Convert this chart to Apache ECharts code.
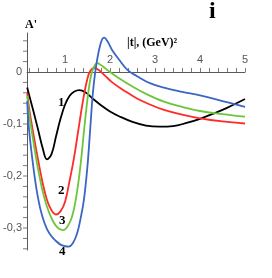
<!DOCTYPE html>
<html><head><meta charset="utf-8">
<script src="https://cdn.jsdelivr.net/npm/echarts@6/dist/echarts.min.js"></script>
<style>html,body{margin:0;padding:0;background:#fff}#c{width:272px;height:278px}</style>
</head><body><div id="c"></div>
<script>
var xLabels = [1,2,3,4,5];
var yLabels = [-0.3,-0.2,-0.1,0];
var xTickValues = [0.2,0.4,0.6,0.8,1,1.2,1.4,1.6,1.8,2,2.2,2.4,2.6,2.8,3,3.2,3.4,3.6,3.8,4,4.2,4.4,4.6,4.8,5];
var yTickValues = [-0.34,-0.32,-0.3,-0.28,-0.26,-0.24,-0.22,-0.2,-0.18,-0.16,-0.14,-0.12,-0.1,-0.08,-0.06,-0.04,-0.02,0.02,0.04,0.06];

var curve1 = [[0.16,-0.03],[0.2,-0.043],[0.3,-0.076],[0.4,-0.11],[0.5,-0.145],[0.6,-0.168],[0.7,-0.158],[0.8,-0.124],[0.9,-0.09],[1.0,-0.063],[1.1,-0.046],[1.2,-0.038],[1.32,-0.035],[1.45,-0.039],[1.6,-0.05],[1.8,-0.064],[2.0,-0.076],[2.2,-0.085],[2.5,-0.096],[2.8,-0.103],[3.1,-0.105],[3.4,-0.104],[3.7,-0.098],[4.0,-0.09],[4.3,-0.08],[4.6,-0.069],[5.0,-0.052]];
var curve2 = [[0.16,-0.04],[0.2,-0.068],[0.3,-0.12],[0.4,-0.168],[0.5,-0.212],[0.6,-0.246],[0.7,-0.266],[0.8,-0.274],[0.9,-0.268],[1.0,-0.25],[1.1,-0.21],[1.2,-0.165],[1.3,-0.11],[1.4,-0.055],[1.5,-0.012],[1.56,0.002],[1.64,0.008],[1.75,0.004],[1.9,-0.008],[2.05,-0.02],[2.3,-0.035],[2.6,-0.051],[2.9,-0.063],[3.2,-0.073],[3.6,-0.082],[4.0,-0.089],[4.5,-0.095],[5.0,-0.099]];
var curve3 = [[0.16,-0.046],[0.2,-0.078],[0.3,-0.135],[0.4,-0.186],[0.5,-0.228],[0.6,-0.259],[0.7,-0.281],[0.8,-0.296],[0.9,-0.303],[0.97,-0.304],[1.05,-0.298],[1.15,-0.28],[1.25,-0.24],[1.35,-0.175],[1.45,-0.09],[1.55,-0.02],[1.62,0.005],[1.72,0.017],[1.82,0.012],[2.0,0.0],[2.2,-0.012],[2.5,-0.028],[2.8,-0.042],[3.2,-0.057],[3.6,-0.067],[4.0,-0.075],[4.5,-0.081],[5.0,-0.086]];
var curve4 = [[0.16,-0.056],[0.2,-0.11],[0.3,-0.185],[0.4,-0.242],[0.5,-0.279],[0.6,-0.302],[0.7,-0.316],[0.8,-0.325],[0.9,-0.332],[1.0,-0.335],[1.08,-0.336],[1.17,-0.33],[1.27,-0.31],[1.35,-0.28],[1.42,-0.246],[1.5,-0.18],[1.56,-0.11],[1.62,-0.04],[1.68,0.005],[1.75,0.04],[1.82,0.062],[1.87,0.066],[1.95,0.058],[2.05,0.042],[2.2,0.024],[2.4,0.003],[2.6,-0.008],[2.9,-0.022],[3.2,-0.03],[3.6,-0.038],[4.0,-0.045],[4.5,-0.056],[5.0,-0.067]];

var W = 272, H = 278;
var x0px = 20, xPerUnit = 45;
var y0px = 72, yPerUnit = 520;
var xMin = 7/45, xMax = 5, yMin = -0.3423, yMax = 0.075;
function px(x){ return x0px + xPerUnit*x; }
function py(y){ return y0px - yPerUnit*y; }

var chart = echarts.init(document.getElementById('c'), null, {renderer:'canvas'});
var axisColor = '#5a5a5a';
var lblFont = {color:'#555', fontFamily:'Liberation Sans, Arial, sans-serif', fontSize:11};
function mk(data, color){
  return {type:'line', data:data, smooth:0.4, showSymbol:false, symbol:'none', z:3,
    lineStyle:{color:color, width:1.8}, animation:false};
}
var xTickData = xTickValues.map(function(v){ return [v, 0]; });
var yTickData = yTickValues.map(function(v){ return [xMin, v]; });
chart.setOption({
  animation:false,
  grid:{left:px(xMin), right:W-px(xMax), top:py(yMax), bottom:H-py(yMin)},
  xAxis:{type:'value', min:xMin, max:xMax, offset:-(py(yMin)-py(0)),
      axisLine:{show:true, onZero:false, lineStyle:{color:axisColor, width:1}},
      axisTick:{show:false},
      axisLabel:Object.assign({inside:true, margin:7, customValues:xLabels}, lblFont),
      splitLine:{show:false}},
  yAxis:{type:'value', min:yMin, max:yMax,
      axisLine:{show:true, onZero:false, lineStyle:{color:axisColor, width:1}},
      axisTick:{show:false},
      axisLabel:Object.assign({margin:5, customValues:yLabels,
        formatter:function(v){ return v===0 ? '0' : String(v).replace('.',','); }}, lblFont),
      splitLine:{show:false}},
  series:[
    {type:'scatter', data:xTickData, symbol:'rect', symbolSize:[1,4], symbolOffset:[0.5,-2], clip:false, silent:true, z:1,
      itemStyle:{color:axisColor}},
    {type:'scatter', data:yTickData, symbol:'rect', symbolSize:[4,1], symbolOffset:[-2,0], clip:false, silent:true, z:1,
      itemStyle:{color:axisColor}},
    mk(curve1,'#000000'), mk(curve2,'#ff2a2a'), mk(curve3,'#6cc63a'), mk(curve4,'#3a66c4')],
  graphic:[
    {type:'text', left:25, top:19, style:{text:"A'", font:'bold 12px "Liberation Serif", serif', fill:'#000'}},
    {type:'text', left:127, top:37, style:{text:'|t|, (GeV)²', font:'bold 12px "Liberation Serif", serif', fill:'#000'}},
    {type:'text', left:209, top:0, style:{text:'i', font:'bold 24px "Liberation Serif", serif', fill:'#000'}},
    {type:'text', left:58, top:96, style:{text:'1', font:'bold 13px "Liberation Serif", serif', fill:'#000'}},
    {type:'text', left:58, top:184, style:{text:'2', font:'bold 13px "Liberation Serif", serif', fill:'#000'}},
    {type:'text', left:59, top:214, style:{text:'3', font:'bold 13px "Liberation Serif", serif', fill:'#000'}},
    {type:'text', left:59, top:245, style:{text:'4', font:'bold 13px "Liberation Serif", serif', fill:'#000'}}
  ]
});
</script></body></html>
